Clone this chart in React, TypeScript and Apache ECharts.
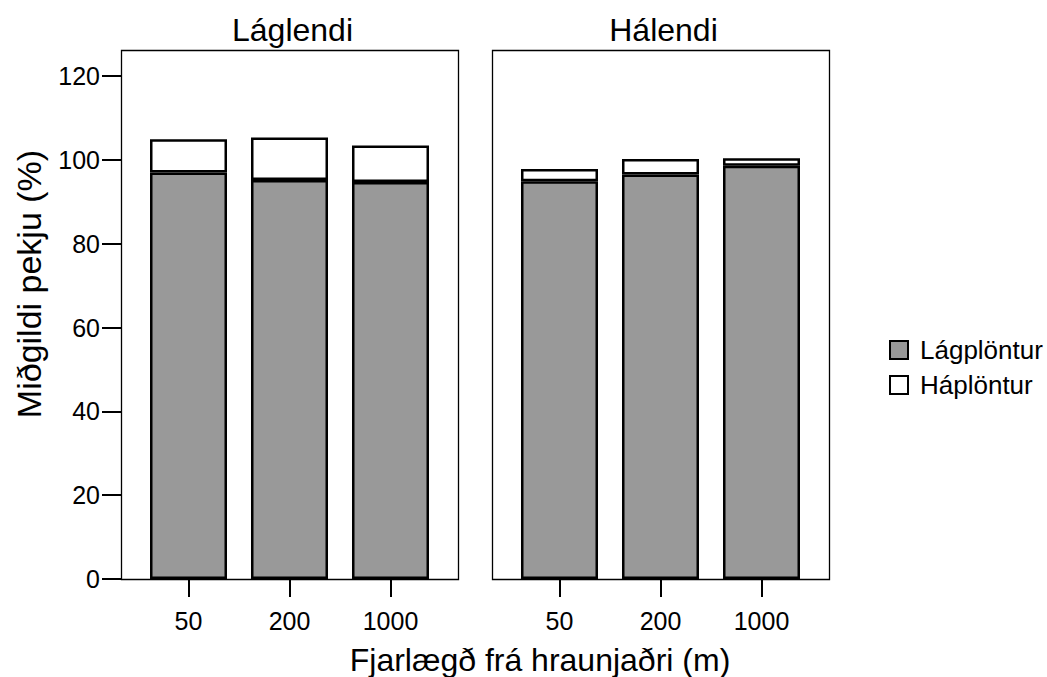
import React, { useEffect, useRef } from "react";
import * as echarts from "echarts";

// Distance classes from the lava edge (x categories)
const distances = ["50", "200", "1000"];
// Facet titles
const panelTitles = ["Láglendi", "Hálendi"];
// Stack components
const groupNames = ["Lágplöntur", "Háplöntur"];

// Median cover (%) per distance, lowland panel
const lowlandLow = [97.0, 95.2, 94.7];
const lowlandHigh = [7.9, 10.1, 8.7];
// Median cover (%) per distance, highland panel
const highlandLow = [94.9, 96.5, 98.6];
const highlandHigh = [2.9, 3.7, 1.8];

const yMin = 0;
const yMax = 120;
const yStep = 20;

const FONT = "'Liberation Sans', Arial, Helvetica, sans-serif";

export default function App() {
  const ref = useRef<HTMLDivElement>(null);

  useEffect(() => {
    if (!ref.current) return;
    const chart = echarts.init(ref.current, undefined, { renderer: "svg" });

    const grids = [
      { left: 138, top: 76, width: 303, height: 503 },
      { left: 509, top: 76, width: 303, height: 503 },
    ];

    const barStyle = (fill: string) => ({
      color: fill,
      borderColor: "#000",
      borderWidth: 2.5,
    });

    const mkX = (gridIndex: number) => ({
      type: "category" as const,
      gridIndex,
      data: distances,
      boundaryGap: true,
      axisLine: { show: false },
      axisTick: {
        show: true,
        alignWithLabel: true,
        length: 18,
        lineStyle: { color: "#000", width: 2 },
      },
      axisLabel: { color: "#000", fontSize: 25, fontFamily: FONT, margin: 29 },
    });

    const mkY = (gridIndex: number, visible: boolean) => ({
      type: "value" as const,
      gridIndex,
      min: yMin,
      max: yMax,
      interval: yStep,
      offset: 17,
      show: visible,
      splitLine: { show: false },
      axisLine: { show: false },
      axisTick: {
        show: true,
        length: 19,
        lineStyle: { color: "#000", width: 2 },
      },
      axisLabel: { color: "#000", fontSize: 25, fontFamily: FONT, margin: 21 },
    });

    const frames = grids.map((g) => ({
      type: "rect",
      silent: true,
      shape: { x: g.left - 16.5, y: 50.5, width: 337, height: 529 },
      style: { fill: "none", stroke: "#000", lineWidth: 1.3 },
      z: 10,
    }));

    const titles = grids.map((g, i) => ({
      type: "text",
      x: g.left + g.width / 2 + 3,
      y: 30,
      style: {
        text: panelTitles[i],
        font: `32px ${FONT}`,
        fill: "#000",
        textAlign: "center",
        textVerticalAlign: "middle",
      },
    }));

    chart.setOption({
      animation: false,
      backgroundColor: "#fff",
      grid: grids,
      xAxis: [mkX(0), mkX(1)],
      yAxis: [mkY(0, true), mkY(1, false)],
      legend: {
        orient: "vertical",
        left: 884,
        top: 332,
        itemWidth: 18,
        itemHeight: 18,
        itemGap: 9,
        icon: "rect",
        data: groupNames,
        textStyle: {
          color: "#000",
          fontSize: 26,
          fontFamily: FONT,
          padding: [0, 0, 0, 7],
        },
      },
      series: [
        {
          name: groupNames[0],
          type: "bar",
          xAxisIndex: 0,
          yAxisIndex: 0,
          stack: "low",
          barWidth: 77,
          itemStyle: barStyle("#999999"),
          data: lowlandLow,
        },
        {
          name: groupNames[1],
          type: "bar",
          xAxisIndex: 0,
          yAxisIndex: 0,
          stack: "low",
          barWidth: 77,
          itemStyle: barStyle("#ffffff"),
          data: lowlandHigh,
        },
        {
          name: groupNames[0],
          type: "bar",
          xAxisIndex: 1,
          yAxisIndex: 1,
          stack: "high",
          barWidth: 77,
          itemStyle: barStyle("#999999"),
          data: highlandLow,
        },
        {
          name: groupNames[1],
          type: "bar",
          xAxisIndex: 1,
          yAxisIndex: 1,
          stack: "high",
          barWidth: 77,
          itemStyle: barStyle("#ffffff"),
          data: highlandHigh,
        },
      ],
      graphic: [
        ...frames,
        ...titles,
        {
          type: "text",
          x: 29,
          y: 284,
          rotation: Math.PI / 2,
          style: {
            text: "Miðgildi pekju (%)",
            font: `34px ${FONT}`,
            fill: "#000",
            textAlign: "center",
            textVerticalAlign: "middle",
          },
        },
        {
          type: "text",
          x: 540,
          y: 660,
          style: {
            text: "Fjarlægð frá hraunjaðri (m)",
            font: `32px ${FONT}`,
            fill: "#000",
            textAlign: "center",
            textVerticalAlign: "middle",
          },
        },
      ],
    });

    return () => chart.dispose();
  }, []);

  return (
    <div
      ref={ref}
      style={{ position: "absolute", left: 0, top: 0, width: 1047, height: 677 }}
    />
  );
}
